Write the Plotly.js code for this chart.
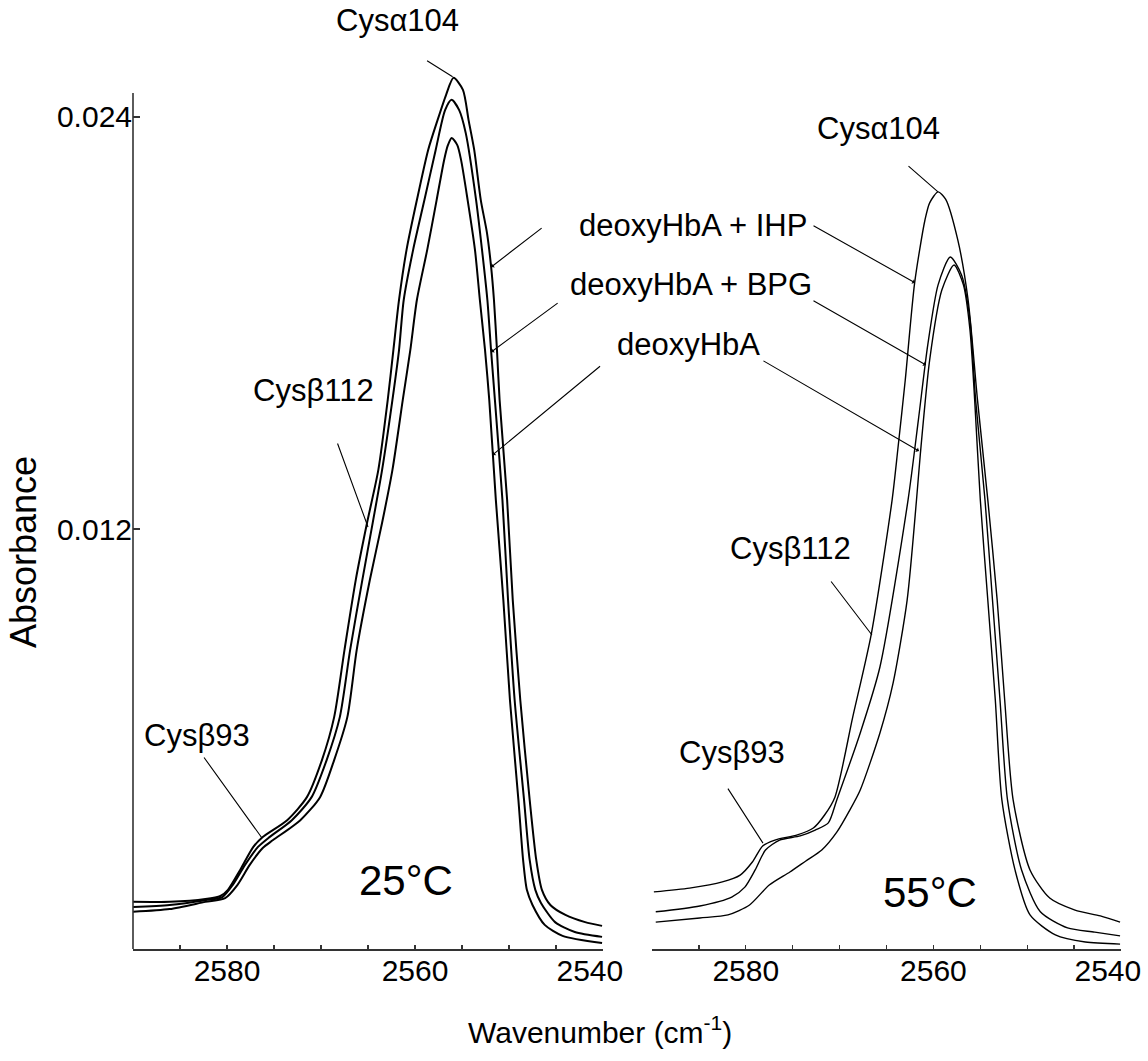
<!DOCTYPE html>
<html>
<head>
<meta charset="utf-8">
<script src="https://cdn.plot.ly/plotly-3.0.1.min.js"></script>
<style>html,body{margin:0;padding:0;background:#fff;}#chart{width:1148px;height:1061px;}</style>
</head>
<body>
<div id="chart"></div>
<script>
// ---- Data (wavenumber in cm-1, absorbance) ----
// 25 C panel
const wn25_IHP = [2590.0,2586.1,2582.3,2580.7,2579.9,2578.6,2577.2,2576.2,2573.6,2571.5,2569.9,2568.6,2567.5,2566.3,2565.1,2563.9,2562.9,2562.3,2561.7,2560.9,2559.8,2558.6,2557.6,2556.7,2555.9,2554.9,2554.3,2553.7,2553.0,2552.34,2551.9,2551.6,2551.28,2551.0,2550.2,2549.6,2548.8,2547.8,2547.1,2546.5,2545.6,2544.0,2541.9,2540.1];
const ab25_IHP = [0.00114,0.00114,0.00122,0.00131,0.00149,0.00207,0.00274,0.00303,0.00352,0.00419,0.00527,0.00652,0.00848,0.01052,0.01218,0.01372,0.01576,0.01721,0.01867,0.02013,0.02158,0.02304,0.02391,0.02464,0.02514,0.02479,0.02391,0.02304,0.02158,0.02062,0.01963,0.01867,0.01721,0.01576,0.01285,0.00993,0.00702,0.00411,0.00236,0.00149,0.00105,0.00076,0.00055,0.00044];

const wn25_BPG = [2590.0,2586.1,2582.3,2580.5,2579.4,2578.1,2576.7,2575.6,2573.1,2571.0,2569.4,2568.0,2566.9,2565.6,2564.5,2563.5,2562.4,2561.7,2561.2,2560.2,2559.0,2557.8,2556.8,2556.1,2555.3,2554.6,2553.5,2552.87,2552.3,2551.91,2551.5,2550.7,2550.1,2549.4,2548.4,2547.8,2547.2,2546.6,2545.1,2543.0,2540.1];
const ab25_BPG = [0.00099,0.00105,0.00119,0.00128,0.00163,0.00221,0.00274,0.00300,0.00352,0.00419,0.00527,0.00652,0.00848,0.01052,0.01218,0.01372,0.01576,0.01721,0.01867,0.02013,0.02158,0.02304,0.02420,0.02450,0.02420,0.02353,0.02158,0.02013,0.01867,0.01721,0.01576,0.01285,0.00993,0.00702,0.00411,0.00236,0.00149,0.00111,0.00055,0.00026,0.00012];

const wn25_HbA = [2590.0,2586.1,2582.3,2580.2,2578.9,2577.6,2576.2,2575.1,2572.2,2570.1,2568.6,2567.2,2566.2,2564.8,2563.5,2562.4,2561.3,2560.5,2559.8,2558.7,2557.7,2556.9,2556.5,2556.1,2555.5,2555.1,2554.4,2553.62,2553.1,2552.55,2552.1,2551.4,2550.6,2549.9,2549.0,2548.5,2548.1,2547.5,2546.2,2544.3,2540.1];
const ab25_HbA = [0.00085,0.00093,0.00114,0.00125,0.00163,0.00221,0.00271,0.00294,0.00352,0.00419,0.00527,0.00652,0.00848,0.01052,0.01218,0.01372,0.01576,0.01721,0.01867,0.02013,0.02158,0.02275,0.02318,0.02339,0.02318,0.02275,0.02158,0.02013,0.01867,0.01721,0.01576,0.01285,0.00993,0.00702,0.00411,0.00236,0.00149,0.00105,0.00047,0.00015,-0.00006];

// 55 C panel
const wn55_IHP = [2589.8,2586.0,2582.5,2580.6,2579.3,2578.2,2576.9,2574.5,2572.8,2571.6,2570.5,2568.6,2566.6,2564.4,2563.8,2563.0,2562.0,2560.9,2560.4,2559.5,2558.7,2557.4,2556.3,2555.3,2554.2,2553.2,2552.4,2551.5,2549.7,2547.6,2544.9,2542.2,2540.1];
const ab55_IHP = [0.00143,0.00154,0.00172,0.00192,0.00230,0.00277,0.00294,0.00309,0.00329,0.00367,0.00419,0.00652,0.00897,0.01285,0.01430,0.01634,0.01917,0.02100,0.02150,0.02182,0.02161,0.02042,0.01867,0.01576,0.01285,0.00993,0.00702,0.00411,0.00207,0.00125,0.00090,0.00073,0.00055];

const wn55_BPG = [2589.6,2584.9,2581.5,2580.1,2579.0,2577.9,2576.4,2574.2,2572.6,2571.2,2570.3,2567.8,2565.7,2562.7,2561.6,2560.6,2559.5,2558.2,2557.0,2556.1,2555.5,2554.5,2553.7,2552.9,2552.1,2550.6,2548.6,2545.7,2542.8,2540.1];
const ab55_BPG = [0.00085,0.00102,0.00128,0.00157,0.00207,0.00265,0.00294,0.00306,0.00323,0.00344,0.00411,0.00606,0.00798,0.01285,0.01518,0.01736,0.01911,0.01992,0.01940,0.01809,0.01576,0.01285,0.00993,0.00702,0.00411,0.00207,0.00085,0.00038,0.00026,0.00015];

const wn55_HbA = [2589.6,2584.9,2581.9,2579.6,2577.5,2575.3,2573.6,2571.9,2570.3,2568.9,2567.8,2565.7,2564.3,2562.8,2561.8,2561.4,2560.4,2559.1,2557.8,2556.8,2556.1,2555.6,2555.0,2554.2,2553.4,2552.7,2551.3,2549.7,2547.0,2543.8,2540.1];
const ab55_HbA = [0.00055,0.00067,0.00076,0.00105,0.00163,0.00201,0.00233,0.00265,0.00317,0.00382,0.00440,0.00606,0.00751,0.00993,0.01285,0.01416,0.01692,0.01896,0.01969,0.01911,0.01780,0.01576,0.01285,0.00993,0.00702,0.00411,0.00207,0.00076,0.00018,-0.00003,-0.00009];

// tick labels (the 2540 label sits slightly left of its tick, as in the original)
const xLabelVals = [2580, 2560, 2541.4];
const xLabelText = ['2580', '2560', '2540'];
const xTickMarks = [2590,2585,2580,2575,2570,2565,2560,2555,2550,2545,2540];
const yTickVals = [0.012, 0.024];
const yTickText = ['0.012', '0.024'];
const yAxisTop = 0.024699;

// ---- Plot ----
const FONT = 'Liberation Sans, Arial, sans-serif';
const W = 1148, TOP = 60, BOT = 949;
const px = v => v / W;
const py = v => (BOT - v) / (BOT - TOP);

function tr(x, y, xa, ya, w) {
  return {x: x, y: y, xaxis: xa, yaxis: ya, type: 'scatter', mode: 'lines',
          line: {color: '#000', width: w, shape: 'spline', smoothing: 0.7},
          hoverinfo: 'skip', showlegend: false};
}
const traces = [
  tr(wn25_IHP, ab25_IHP, 'x', 'y', 2.0),
  tr(wn25_BPG, ab25_BPG, 'x', 'y', 2.0),
  tr(wn25_HbA, ab25_HbA, 'x', 'y', 2.0),
  tr(wn55_IHP, ab55_IHP, 'x2', 'y2', 1.4),
  tr(wn55_BPG, ab55_BPG, 'x2', 'y2', 1.4),
  tr(wn55_HbA, ab55_HbA, 'x2', 'y2', 1.4)
];

const yRange = [-0.000233, 0.025660];
function xax(dom) {
  return {domain: dom, range: [2590, 2540], autorange: false,
    tickmode: 'array', tickvals: xLabelVals, ticktext: xLabelText,
    ticks: 'inside', ticklen: 0, tickwidth: 0, tickcolor: 'rgba(0,0,0,0)',
    minor: {tickmode: 'array', tickvals: xTickMarks, ticks: 'inside', ticklen: 4, tickwidth: 1.2, tickcolor: '#333'},
    showline: true, linecolor: '#333', linewidth: 1.6, showgrid: false, zeroline: false,
    tickfont: {family: FONT, size: 30, color: '#000'}, ticklabelstandoff: -6};
}

function txt(t, x, y, size) {
  return {text: t, xref: 'paper', yref: 'paper', x: px(x), y: py(y), xanchor: 'center', yanchor: 'middle',
          showarrow: false, font: {family: FONT, size: size || 31, color: '#000'}};
}
function ptr(xr, yr, hx, hy, ax, ay, head) {
  return {text: '', xref: xr, yref: yr, x: hx, y: hy, ax: ax, ay: ay, showarrow: true,
          arrowhead: head ? 1 : 0, arrowsize: 0.8, arrowwidth: 1.1, arrowcolor: '#000', standoff: 0, startstandoff: 0};
}

const annotations = [
  txt('Cysα104', 397, 20),
  txt('deoxyHbA + IHP', 693, 225),
  txt('deoxyHbA + BPG', 691, 284),
  txt('deoxyHbA', 688, 344),
  txt('Cysβ112', 313, 390),
  txt('Cysβ93', 197, 735),
  txt('25°C', 406, 880, 42),
  txt('Cysα104', 878, 128),
  txt('Cysβ112', 791, 548),
  txt('Cysβ93', 732, 752),
  txt('55°C', 930, 892, 42),
  txt('Wavenumber (cm<sup>-1</sup>)', 600, 1030, 30),
  Object.assign(txt('Absorbance', 23, 552, 36), {textangle: -90}),
  ptr('x', 'y', 2556.0, 0.02517, -27, -17, false),
  ptr('x', 'y', 2551.9, 0.01963, 52, -40, true),
  ptr('x', 'y', 2551.9, 0.017155, 68, -50, true),
  ptr('x', 'y', 2551.75, 0.014155, 109, -90, true),
  ptr('x', 'y', 2565.0, 0.012058, -31, -85, false),
  ptr('x', 'y', 2576.28, 0.0030, -59, -82, false),
  ptr('x2', 'y2', 2559.51, 0.02182, -31, -27, false),
  ptr('x2', 'y2', 2561.96, 0.01917, -103, -58, true),
  ptr('x2', 'y2', 2560.79, 0.016777, -114, -65, true),
  ptr('x2', 'y2', 2561.54, 0.014272, -157, -91, true),
  ptr('x2', 'y2', 2566.55, 0.008913, -42, -55, false),
  ptr('x2', 'y2', 2578.17, 0.00285, -36, -56, false)
];

const layout = {
  width: 1148, height: 1061,
  margin: {l: 0, r: 0, t: TOP, b: 1061 - BOT, pad: 0},
  paper_bgcolor: '#fff', plot_bgcolor: 'rgba(0,0,0,0)',
  showlegend: false,
  xaxis: xax([px(133), px(603)]),
  xaxis2: Object.assign(xax([px(652), px(1121)]), {anchor: 'y2'}),
  yaxis: {domain: [0, 1], range: yRange, autorange: false, anchor: 'x',
    tickmode: 'array', tickvals: yTickVals, ticktext: yTickText,
    ticks: 'inside', ticklen: 7, tickwidth: 1.2, tickcolor: '#333',
    showline: false, showgrid: false, zeroline: false,
    tickfont: {family: FONT, size: 30, color: '#000'}, ticklabelstandoff: 0},
  yaxis2: {domain: [0, 1], range: yRange, autorange: false, anchor: 'x2',
    showline: false, showticklabels: false, ticks: '', showgrid: false, zeroline: false},
  shapes: [
    {type: 'line', xref: 'x domain', yref: 'y', x0: 0, x1: 0, y0: yRange[0], y1: yAxisTop,
     line: {color: '#333', width: 1.6}}
  ],
  annotations: annotations
};

Plotly.newPlot('chart', traces, layout, {staticPlot: true, displayModeBar: false});
</script>
</body>
</html>
